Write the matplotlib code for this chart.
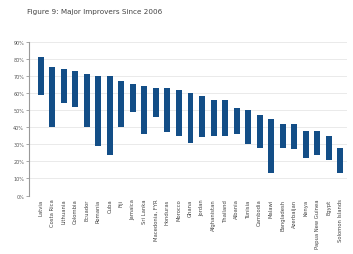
import matplotlib
matplotlib.use("Agg")
import matplotlib.pyplot as plt
import numpy as np

countries = ["Latvia", "Costa Rica", "Lithuania", "Colombia", "Ecuador", "Romania",
             "Cuba", "Fiji", "Jamaica", "Sri Lanka", "Macedonia, FYR", "Honduras",
             "Morocco", "Ghana", "Jordan", "Afghanistan", "Thailand", "Albania",
             "Tunisia", "Cambodia", "Malawi", "Bangladesh", "Azerbaijan", "Kenya",
             "Papua New Guinea", "Egypt", "Solomon Islands"]
low = [59, 40, 54, 52, 40, 29, 24, 40, 49, 36, 46, 37,
       35, 31, 34, 35, 35, 36, 30, 28, 13, 28, 27, 22, 24, 21, 13]
high = [81, 75, 74, 73, 71, 70, 70, 67, 65, 64, 63, 63,
        62, 60, 58, 56, 56, 51, 50, 47, 45, 42, 42, 38, 38, 35, 28]

fig = plt.figure(figsize=(3.53, 2.55), dpi=100)
ax = fig.add_axes([0.082, 0.229, 0.901, 0.604])

x = np.arange(len(countries))
ax.bar(x, np.array(high) - np.array(low), bottom=low, width=0.52,
       color="#134e87", zorder=3)

ax.set_ylim(0, 90)
ax.set_xlim(-1.04, len(countries) - 0.4)
ax.set_yticks(range(0, 91, 10))
ax.set_yticklabels([f"{v}%" for v in range(0, 91, 10)], fontsize=3.5, color="#555555")
ax.set_xticks(x)
ax.set_xticklabels(countries, rotation=90, fontsize=3.8, color="#444444")
ax.tick_params(axis="x", length=0, pad=2)
ax.tick_params(axis="y", length=2, width=0.6, color="#999999", pad=1.5)

ax.grid(axis="y", color="#e6e6e6", linewidth=0.6, zorder=0)
for s in ["top", "right", "bottom"]:
    ax.spines[s].set_visible(False)
ax.spines["left"].set_color("#999999")
ax.spines["left"].set_linewidth(0.8)

fig.text(27 / 353, 1 - 12 / 255, "Figure 9: Major Improvers Since 2006",
         fontsize=5.2, color="#444444", va="center", ha="left")

fig.savefig("out.png", dpi=100)
